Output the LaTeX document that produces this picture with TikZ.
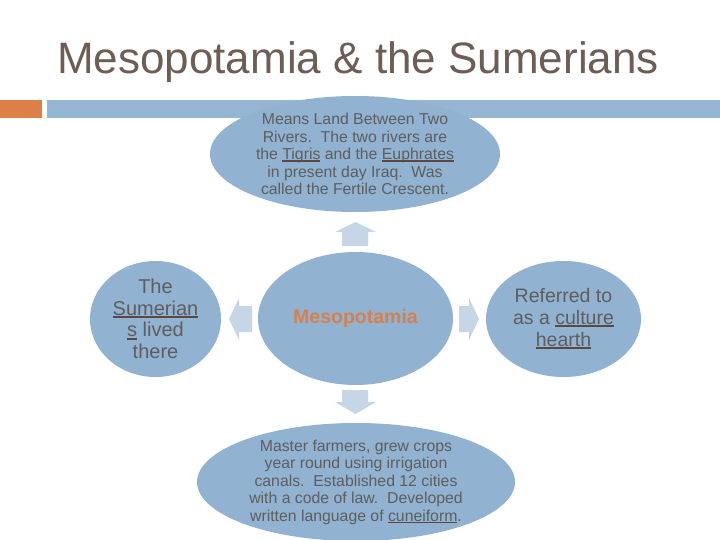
\documentclass[tikz,border=0pt]{standalone}
\usepackage{fontspec}
\setmainfont{Liberation Sans}
\usetikzlibrary{shapes.geometric}
\definecolor{titlecol}{HTML}{6D5D55}
\definecolor{barblue}{HTML}{94B6D2}
\definecolor{barorange}{HTML}{DD8047}
\definecolor{ellfill}{HTML}{91B2D0}
\definecolor{arrowcol}{HTML}{C6D6E6}
\definecolor{txtcol}{HTML}{5E5E5E}
\definecolor{ulcol}{HTML}{5C4842}
\definecolor{mesocol}{HTML}{D6804C}
\newsavebox{\myulbox}
\newcommand\myul[1]{\leavevmode\sbox{\myulbox}{#1}\usebox{\myulbox}\llap{\textcolor{ulcol}{\rule[-0.14em]{\wd\myulbox}{0.11em}}}}
\tikzset{
  bubble/.style={ellipse, fill=ellfill, draw=none, inner sep=0pt},
  bubtext/.style={text=txtcol, align=center, inner sep=0pt},
  blockarrow/.style={fill=arrowcol, draw=none},
}
\begin{document}
\begin{tikzpicture}[x=1bp, y=-1bp]
\useasboundingbox (0,0) rectangle (720,540);
\fill[white] (0,0) rectangle (720,540);
% title
\node[anchor=base west, text=titlecol, inner sep=0pt, font=\fontsize{44bp}{50bp}\selectfont] (title) at (57,73.5) {Mesopotamia \& the Sumerians};
% header bar
\fill[barorange] (0,100) rectangle (42,118);
\fill[barblue] (47,100) rectangle (720,118);
% ellipses
\node[bubble, minimum width=290bp, minimum height=116bp] (top) at (355,154) {};
\node[bubble, minimum width=195bp, minimum height=133bp] (center) at (355.5,318.5) {};
\node[bubble, minimum width=131bp, minimum height=116bp] (left) at (155.5,319) {};
\node[bubble, minimum width=155bp, minimum height=116bp] (right) at (563.5,319) {};
\node[bubble, minimum width=318bp, minimum height=118bp] (bottom) at (356,482) {};
% texts
\node[bubtext, font=\fontsize{15.8bp}{17.5bp}\selectfont] (toptext) at (top.center)
  {Means Land Between Two\\Rivers.\ \ The two rivers are\\the \myul{Tigris} and the \myul{Euphrates}\\in present day Iraq.\ \ Was\\called the Fertile Crescent.};
\node[inner sep=0pt, text=mesocol, font=\fontsize{19.5bp}{22bp}\selectfont\bfseries] (centertext) at (center.center) {Mesopotamia};
\node[bubtext, font=\fontsize{20bp}{21.7bp}\selectfont] (lefttext) at (left.center)
  {The\\\myul{Sumerian}\\\myul{s} lived\\there};
\node[bubtext, font=\fontsize{19.5bp}{22bp}\selectfont] (righttext) at (right.center)
  {Referred to\\as a \myul{culture}\\\myul{hearth}};
\node[bubtext, font=\fontsize{15.8bp}{17.5bp}\selectfont] (bottomtext) at (bottom.center)
  {Master farmers, grew crops\\year round using irrigation\\canals.\ \ Established 12 cities\\with a code of law.\ \ Developed\\written language of \myul{cuneiform}.};
% block arrows
\fill[blockarrow] (342,246) -- (342,232) -- (335,232) -- (355.5,222) -- (376,232) -- (368,232) -- (368,246) -- cycle;
\fill[blockarrow] (342,390) -- (342,402) -- (335,402) -- (355.5,414) -- (376,402) -- (368,402) -- (368,390) -- cycle;
\fill[blockarrow] (252,306) -- (239,306) -- (239,298) -- (229,319) -- (239,340) -- (239,332) -- (252,332) -- cycle;
\fill[blockarrow] (459,306) -- (469,306) -- (469,298) -- (479,319) -- (469,340) -- (469,332) -- (459,332) -- cycle;
\end{tikzpicture}
\end{document}
